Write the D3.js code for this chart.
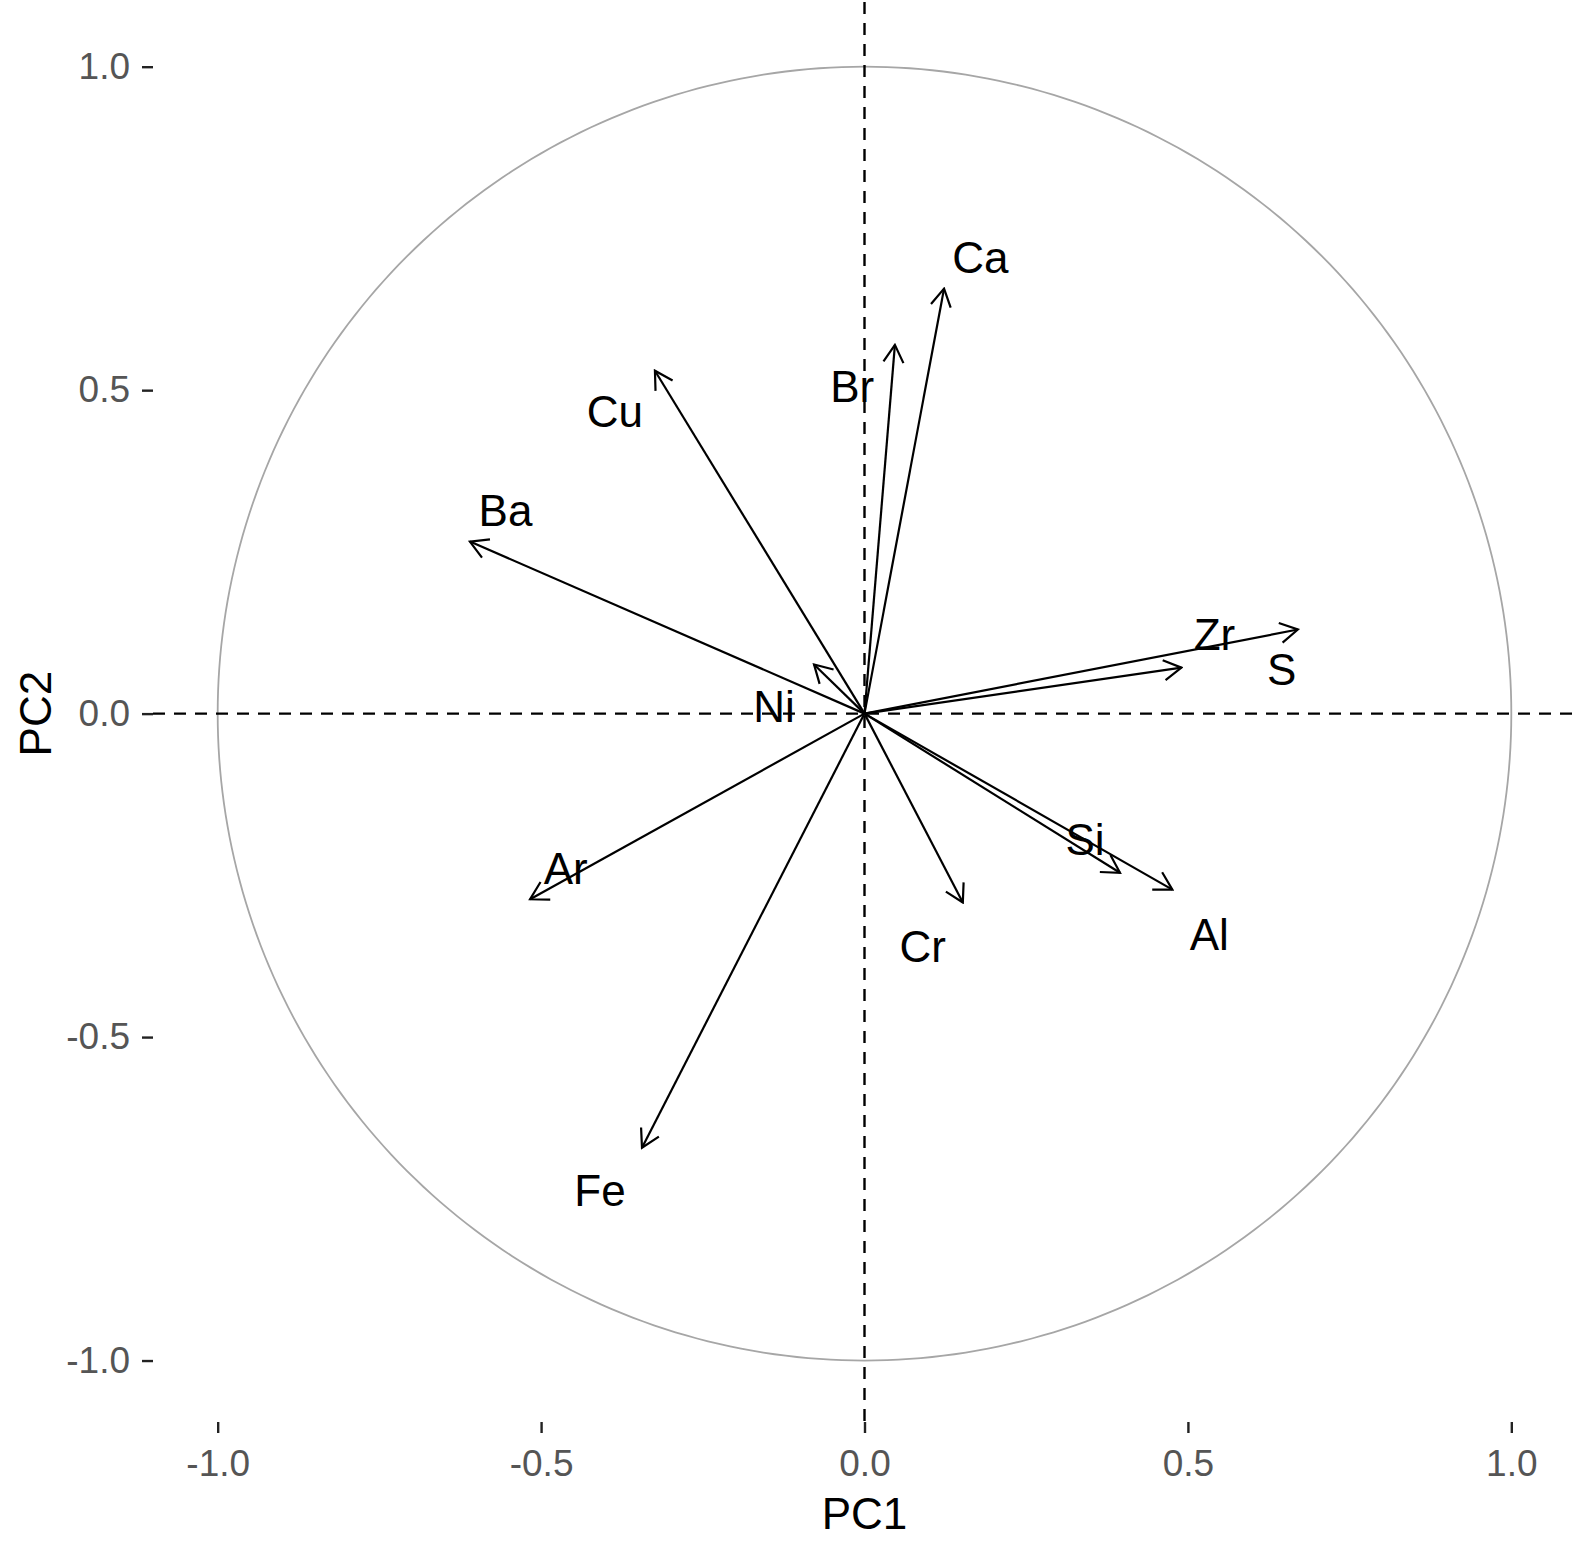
<!DOCTYPE html>
<html><head><meta charset="utf-8">
<script src="https://cdn.jsdelivr.net/npm/d3@7"></script>
<style>body{margin:0;background:#fff}svg{display:block}</style>
</head><body>
<script>
// Variable names
const variables = ["Ca","Br","Cu","Ba","Ni","S","Zr","Si","Al","Cr","Ar","Fe"];
// Loadings on PC1 and PC2 (arrow tips)
const pc1 = [0.123, 0.047, -0.324, -0.610, -0.078, 0.670, 0.490, 0.395, 0.476, 0.152, -0.517, -0.344];
const pc2 = [0.657, 0.570, 0.530, 0.266, 0.076, 0.130, 0.071, -0.246, -0.272, -0.292, -0.287, -0.671];
// Label positions (data units)
const labelX = [0.179, -0.019, -0.386, -0.555, -0.140, 0.645, 0.541, 0.341, 0.533, 0.090, -0.462, -0.409];
const labelY = [0.705, 0.505, 0.467, 0.314, 0.011, 0.068, 0.122, -0.195, -0.342, -0.360, -0.240, -0.737];
// Tick values
const xTicks = [-1.0, -0.5, 0.0, 0.5, 1.0];
const yTicks = [-1.0, -0.5, 0.0, 0.5, 1.0];

const W = 1576, H = 1551;
const svg = d3.select("body").append("svg").attr("width", W).attr("height", H)
  .style("font-family", "'Liberation Sans', Arial, sans-serif");

const pLeft = 153, pRight = 1576, pTop = 2, pBottom = 1422;
const x = d3.scaleLinear().domain([-1.1, 1.1]).range([pLeft, pRight]);
const y = d3.scaleLinear().domain([-1.095, 1.1]).range([pBottom, pTop]);

// circle
const circ = d3.range(0, 361).map(a => [Math.cos(a*Math.PI/180), Math.sin(a*Math.PI/180)]);
svg.append("path")
  .attr("d", d3.line().x(d => x(d[0])).y(d => y(d[1]))(circ))
  .attr("fill", "none").attr("stroke", "#a6a6a6").attr("stroke-width", 1.8);

// dashed reference lines
svg.append("line").attr("x1", pLeft).attr("x2", pRight).attr("y1", y(0)).attr("y2", y(0))
  .attr("stroke", "#000").attr("stroke-width", 2.4).attr("stroke-dasharray", "12,9");
svg.append("line").attr("x1", x(0)).attr("x2", x(0)).attr("y1", pTop).attr("y2", pBottom)
  .attr("stroke", "#000").attr("stroke-width", 2.4).attr("stroke-dasharray", "12,9");

// arrow marker
svg.append("defs").append("marker")
  .attr("id", "arr").attr("markerUnits", "userSpaceOnUse")
  .attr("viewBox", "-20 -12 22 24").attr("refX", 0).attr("refY", 0)
  .attr("markerWidth", 22).attr("markerHeight", 24).attr("orient", "auto")
  .append("path").attr("d", "M-17.5,-10 L0,0 L-17.5,10")
  .attr("fill", "none").attr("stroke", "#000").attr("stroke-width", 2.2);

const data = variables.map((v, i) => ({v, px: pc1[i], py: pc2[i], lx: labelX[i], ly: labelY[i]}));

svg.append("g").selectAll("line").data(data).join("line")
  .attr("x1", x(0)).attr("y1", y(0))
  .attr("x2", d => x(d.px)).attr("y2", d => y(d.py))
  .attr("stroke", "#000").attr("stroke-width", 2.2)
  .attr("marker-end", "url(#arr)");

svg.append("g").selectAll("text").data(data).join("text")
  .attr("x", d => x(d.lx)).attr("y", d => y(d.ly))
  .attr("text-anchor", "middle").attr("dominant-baseline", "central")
  .attr("font-size", 44).attr("fill", "#000")
  .text(d => d.v);

// axes
const fmt = d => d.toFixed(1);
const gx = svg.append("g").attr("transform", `translate(0,${pBottom})`)
  .call(d3.axisBottom(x).tickValues(xTicks).tickFormat(fmt).tickSize(11).tickPadding(17));
const gy = svg.append("g").attr("transform", `translate(${pLeft},0)`)
  .call(d3.axisLeft(y).tickValues(yTicks).tickFormat(fmt).tickSize(11).tickPadding(12));
[gx, gy].forEach(g => {
  g.select(".domain").remove();
  g.selectAll(".tick line").attr("stroke", "#222").attr("stroke-width", 2.4);
  g.selectAll(".tick text").attr("fill", "#555").attr("font-size", 37)
    .style("font-family", "'Liberation Sans', Arial, sans-serif");
});

// axis titles
svg.append("text").attr("x", x(0)).attr("y", 1513)
  .attr("text-anchor", "middle").attr("dominant-baseline", "central")
  .attr("font-size", 44).attr("fill", "#000").text("PC1");
svg.append("text").attr("transform", `translate(35,${y(0)}) rotate(-90)`)
  .attr("text-anchor", "middle").attr("dominant-baseline", "central")
  .attr("font-size", 44).attr("fill", "#000").text("PC2");
</script>
</body></html>
